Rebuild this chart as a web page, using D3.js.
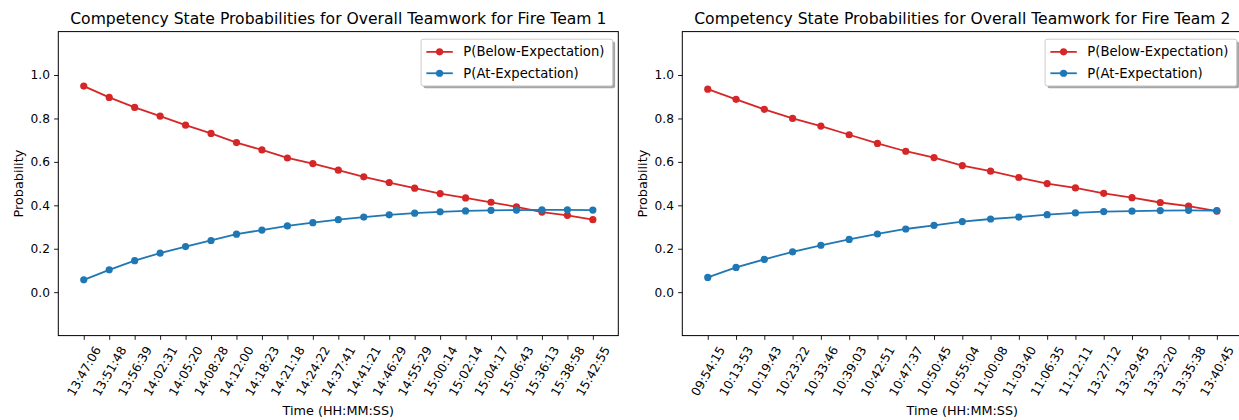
<!DOCTYPE html>
<html>
<head>
<meta charset="utf-8">
<script src="https://cdn.jsdelivr.net/npm/d3@7"></script>
<style>
  html, body { margin: 0; padding: 0; background: #fff; overflow: hidden; }
  svg { display: block; font-family: "DejaVu Sans", sans-serif; }
</style>
</head>
<body>
<svg id="chart" width="1239" height="420"></svg>
<script>
// Fire Team 1 observation times and state probabilities
const timesTeam1 = ["13:47:06","13:51:48","13:56:39","14:02:31","14:05:20","14:08:28","14:12:00",
  "14:18:23","14:21:18","14:24:22","14:37:41","14:41:21","14:46:29","14:55:29","15:00:14",
  "15:02:14","15:04:17","15:06:43","15:36:13","15:38:58","15:42:55"];
const belowTeam1 = [0.949,0.897,0.851,0.811,0.769,0.731,0.689,0.655,0.618,0.592,0.562,0.531,
  0.505,0.479,0.454,0.434,0.414,0.393,0.369,0.354,0.334];
const atTeam1 = [0.057,0.103,0.145,0.180,0.210,0.238,0.267,0.286,0.305,0.320,0.334,0.346,
  0.356,0.364,0.370,0.374,0.377,0.378,0.379,0.379,0.378];

// Fire Team 2 observation times and state probabilities
const timesTeam2 = ["09:54:15","10:13:53","10:19:43","10:23:22","10:33:46","10:39:03","10:42:51",
  "10:47:37","10:50:45","10:55:04","11:00:08","11:03:40","11:06:35","11:12:11","13:27:12",
  "13:29:45","13:32:20","13:35:38","13:40:45"];
const belowTeam2 = [0.935,0.888,0.842,0.800,0.765,0.725,0.685,0.649,0.620,0.583,0.557,0.528,
  0.500,0.480,0.455,0.435,0.413,0.396,0.373];
const atTeam2 = [0.068,0.114,0.151,0.186,0.216,0.243,0.268,0.291,0.308,0.325,0.337,0.346,
  0.357,0.365,0.371,0.373,0.376,0.377,0.376];

const yTicks = [0.0, 0.2, 0.4, 0.6, 0.8, 1.0];
const seriesNames = ["P(Below-Expectation)", "P(At-Expectation)"];
const seriesColors = ["#d62728", "#1f77b4"];

const panels = [
  { title: "Competency State Probabilities for Overall Teamwork for Fire Team 1",
    times: timesTeam1, series: [belowTeam1, atTeam1], left: 58.3 },
  { title: "Competency State Probabilities for Overall Teamwork for Fire Team 2",
    times: timesTeam2, series: [belowTeam2, atTeam2], left: 682.3 }
];

const svg = d3.select("#chart");
const plotW = 560, plotTop = 31.6, plotBottom = 335.6;
const tickLen = 4.2, tickPad = 4.2;
const tickFs = 12.2, labelFs = 12.8, legendFs = 13.2, titleFs = 15.6;

panels.forEach(p => {
  const n = p.times.length;
  const m = 0.05 * (n - 1);
  const x = d3.scaleLinear().domain([-m, n - 1 + m]).range([p.left, p.left + plotW]);
  const y = d3.scaleLinear().domain([-0.2, 1.2]).range([plotBottom, plotTop]);
  const g = svg.append("g");

  // series lines and markers
  p.series.forEach((vals, si) => {
    const line = d3.line().x((d, i) => x(i)).y(d => y(d));
    g.append("path").datum(vals)
      .attr("d", line).attr("fill", "none")
      .attr("stroke", seriesColors[si]).attr("stroke-width", 1.8);
    g.selectAll(null).data(vals).enter().append("circle")
      .attr("cx", (d, i) => x(i)).attr("cy", d => y(d)).attr("r", 3.6)
      .attr("fill", seriesColors[si]);
  });

  // y axis
  const ya = g.append("g").attr("transform", `translate(${p.left},0)`)
    .call(d3.axisLeft(y).tickValues(yTicks).tickFormat(d3.format(".1f"))
      .tickSize(tickLen).tickPadding(tickPad));
  ya.select(".domain").remove();
  ya.selectAll("text").attr("font-size", tickFs).attr("font-family", "DejaVu Sans").attr("fill", "#000");
  ya.selectAll("line").attr("stroke", "#000").attr("stroke-width", 0.9);

  // x axis with rotated time labels
  const xa = g.append("g").attr("transform", `translate(0,${plotBottom})`)
    .call(d3.axisBottom(x).tickValues(d3.range(n)).tickFormat(i => p.times[i])
      .tickSize(tickLen).tickPadding(0));
  xa.select(".domain").remove();
  xa.selectAll("line").attr("stroke", "#000").attr("stroke-width", 0.9);
  xa.selectAll("text")
    .attr("font-size", tickFs).attr("font-family", "DejaVu Sans").attr("fill", "#000")
    .attr("text-anchor", "middle").attr("dy", null).attr("y", 0)
    .attr("dominant-baseline", "central")
    .each(function () {
      const L = this.getComputedTextLength();
      const h = tickFs * 1.164;
      const bh = L * Math.sin(Math.PI / 3) + h * Math.cos(Math.PI / 3);
      d3.select(this).attr("transform", `translate(0,${tickLen + tickPad + bh / 2}) rotate(-60)`);
    });

  // frame
  g.append("rect").attr("x", p.left).attr("y", plotTop).attr("width", plotW).attr("height", plotBottom - plotTop)
    .attr("fill", "none").attr("stroke", "#000").attr("stroke-width", 1);

  // title and axis labels
  g.append("text").attr("x", p.left + plotW / 2).attr("y", plotTop - 8)
    .attr("text-anchor", "middle").attr("font-size", titleFs).attr("fill", "#000").text(p.title);
  g.append("text").attr("transform", `translate(${p.left - 35.5},${(plotTop + plotBottom) / 2}) rotate(-90)`)
    .attr("text-anchor", "middle").attr("font-size", labelFs).attr("fill", "#000").text("Probability");
  g.append("text").attr("x", p.left + plotW / 2).attr("y", 415)
    .attr("text-anchor", "middle").attr("font-size", labelFs).attr("fill", "#000").text("Time (HH:MM:SS)");

  // legend (upper right, with drop shadow)
  const lg = g.append("g");
  const pad = 0.4 * legendFs, handleL = 2 * legendFs, handleGap = 0.8 * legendFs;
  const rowH = 1.12 * legendFs, rowGap = 0.5 * legendFs;
  const labels = lg.selectAll("text.lbl").data(seriesNames).enter().append("text")
    .attr("class", "lbl").attr("font-size", legendFs).attr("fill", "#000")
    .attr("dominant-baseline", "central").text(d => d);
  const textW = d3.max(labels.nodes(), nd => nd.getComputedTextLength());
  const boxW = pad + handleL + handleGap + textW + pad + 3;
  const boxH = 2 * pad + 2 * rowH + rowGap;
  const boxR = p.left + plotW - 5.6, boxT = plotTop + 7.6;
  const boxL = boxR - boxW;
  lg.insert("rect", ":first-child").attr("x", boxL).attr("y", boxT).attr("width", boxW).attr("height", boxH)
    .attr("rx", 2).attr("fill", "#fff").attr("stroke", "#cccccc").attr("stroke-width", 1);
  lg.insert("rect", ":first-child").attr("x", boxL + 2.4).attr("y", boxT + 2.4).attr("width", boxW).attr("height", boxH)
    .attr("rx", 2).attr("fill", "#4d4d4d").attr("opacity", 0.5);
  seriesNames.forEach((name, si) => {
    const cy = boxT + pad + rowH / 2 + si * (rowH + rowGap);
    const hx = boxL + pad;
    lg.append("line").attr("x1", hx).attr("x2", hx + handleL).attr("y1", cy).attr("y2", cy)
      .attr("stroke", seriesColors[si]).attr("stroke-width", 1.8);
    lg.append("circle").attr("cx", hx + handleL / 2).attr("cy", cy).attr("r", 3.6).attr("fill", seriesColors[si]);
  });
  labels.attr("x", boxL + pad + handleL + handleGap)
    .attr("y", (d, i) => boxT + pad + rowH / 2 + i * (rowH + rowGap));
});
</script>
</body>
</html>
